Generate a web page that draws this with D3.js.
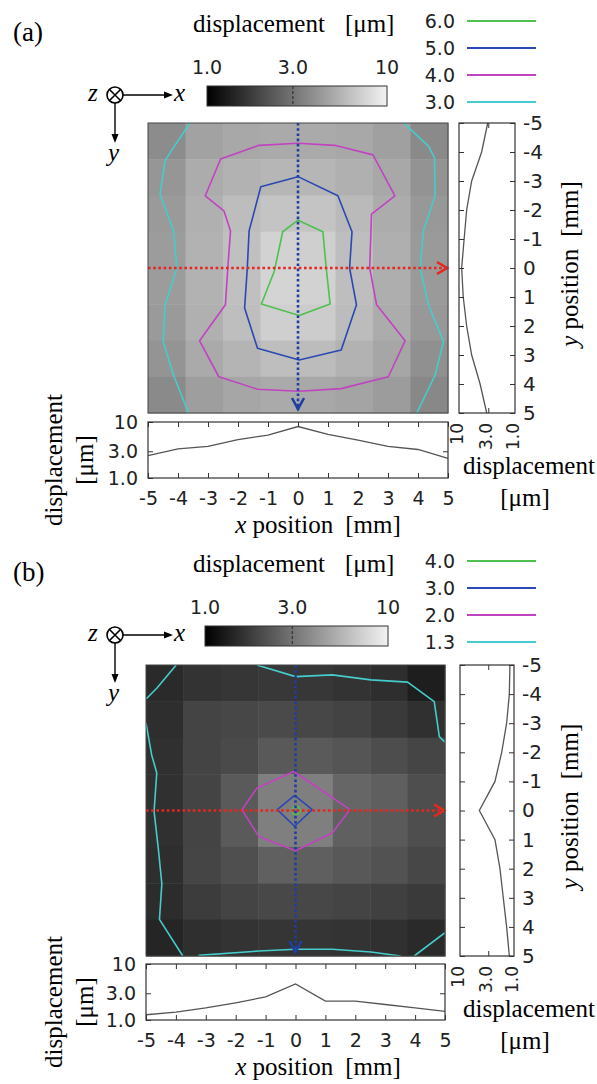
<!DOCTYPE html>
<html>
<head>
<meta charset="utf-8">
<script src="https://cdnjs.cloudflare.com/ajax/libs/d3/7.8.5/d3.min.js"></script>
<style>
body { margin: 0; background: #fff; }
svg { display: block; }
</style>
</head>
<body>
<script>
"use strict";

// positions along the two cut lines [mm]
const positions = [-5, -4, -3, -2, -1, 0, 1, 2, 3, 4, 5];
// log ticks of the displacement axes [um]
const scaleTicks = [1, 3, 10];

// (a) 8x8 block map of displacement [um], rows top -> bottom
const mapA = [
	[3.79, 4.67, 4.94, 5.04, 5.04, 4.94, 4.58, 3.72],
	[4.17, 5.14, 5.44, 5.65, 5.65, 5.34, 4.94, 4.05],
	[4.33, 5.34, 6.04, 6.45, 6.45, 5.87, 5.14, 4.25],
	[4.41, 5.44, 6.21, 7.38, 7.17, 6.10, 5.28, 4.33],
	[4.41, 5.44, 6.21, 7.52, 7.38, 6.10, 5.24, 4.33],
	[4.33, 5.34, 6.10, 7.17, 6.97, 5.98, 5.14, 4.25],
	[4.09, 5.04, 5.54, 6.10, 5.98, 5.44, 4.85, 3.94],
	[3.72, 4.50, 4.85, 5.04, 4.94, 4.76, 4.41, 3.65]
];
// (b) 8x8 block map [um]
const mapB = [
	[1.49, 1.62, 1.67, 1.70, 1.69, 1.62, 1.55, 1.33],
	[1.55, 1.91, 1.97, 2.02, 1.97, 1.89, 1.74, 1.58],
	[1.58, 1.91, 2.02, 2.33, 2.35, 2.25, 2.08, 1.93],
	[1.58, 1.91, 2.35, 3.35, 3.35, 2.64, 2.47, 2.10],
	[1.58, 1.91, 2.35, 3.35, 3.35, 2.49, 2.35, 2.10],
	[1.55, 1.93, 2.12, 2.49, 2.47, 2.31, 2.18, 1.97],
	[1.52, 1.77, 1.91, 1.99, 1.97, 1.91, 1.84, 1.74],
	[1.42, 1.56, 1.62, 1.66, 1.66, 1.62, 1.58, 1.49]
];

// profiles along y = 0 (x cut) and x = 0 (y cut) [um]
const profileXA = [2.50, 3.30, 3.66, 4.86, 5.85, 8.30, 6.00, 4.73, 3.66, 3.23, 2.24];
const profileYA = [3.07, 3.94, 5.94, 7.30, 8.10, 8.96, 8.40, 7.30, 5.94, 4.20, 3.20];
const profileXB = [1.24, 1.38, 1.64, 2.03, 2.58, 4.41, 2.17, 2.17, 1.89, 1.64, 1.42];
const profileYB = [1.19, 1.22, 1.37, 1.69, 2.25, 4.38, 2.25, 1.82, 1.58, 1.37, 1.22];

// contour levels [um], legend order
const levelsA = [6.0, 5.0, 4.0, 3.0];
const levelsB = [4.0, 3.0, 2.0, 1.3];

// contour traces [x mm, y mm]
const isoA6 = [[0.0, -1.65], [0.83, -1.25], [0.94, 0.0], [1.07, 1.24], [0.04, 1.64], [-1.22, 1.24], [-0.79, 0.11], [-0.51, -1.25]];
const isoA5 = [[0.0, -3.15], [1.33, -2.49], [1.80, -1.25], [1.72, 0.0], [1.95, 1.27], [1.44, 2.83], [0.04, 3.17],
	[-1.35, 2.77], [-1.78, 1.38], [-1.69, 0.0], [-1.63, -1.28], [-1.24, -2.80]];
const isoA4 = [[-2.58, -3.76], [-1.30, -4.23], [0.0, -4.30], [1.22, -4.23], [2.50, -3.90], [3.23, -2.49], [2.45, -1.86],
	[2.39, 0.0], [2.62, 1.27], [3.57, 2.51], [3.01, 3.75], [1.44, 4.16], [0.04, 4.25], [-1.35, 4.18], [-2.64, 3.75],
	[-3.28, 2.51], [-2.42, 1.27], [-2.34, 0.0], [-2.25, -1.28], [-2.47, -1.97], [-3.09, -2.49]];
const isoA3L = [[-3.61, -5.0], [-4.43, -3.71], [-4.60, -2.55], [-4.15, -1.28], [-4.04, 0.0], [-4.43, 1.27],
	[-4.49, 2.54], [-4.15, 3.69], [-3.65, 5.0]];
const isoA3R = [[3.52, -5.0], [4.35, -4.20], [4.55, -3.80], [4.57, -2.49], [4.18, -1.28], [4.07, 0.0], [4.35, 1.27],
	[4.85, 2.54], [4.57, 3.69], [3.96, 5.0]];

const isoB4 = [[0.16, 0.0], [0.11, -0.11], [0.02, -0.15], [-0.08, -0.11], [-0.12, 0.0], [-0.08, 0.11], [0.02, 0.15], [0.11, 0.11]];
const isoB3 = [[-0.03, -0.52], [0.56, -0.03], [-0.03, 0.54], [-0.61, -0.03]];
const isoB2 = [[-0.06, -1.34], [1.17, -0.49], [1.82, -0.03], [1.23, 0.77], [0.0, 1.38], [-1.23, 0.89], [-1.79, -0.03], [-1.29, -0.77]];
const isoB13a = [[-3.99, -5.0], [-4.64, -4.2], [-5.0, -3.83]];
const isoB13b = [[-1.29, -5.0], [0.0, -4.6], [1.23, -4.66], [2.52, -4.49], [3.75, -4.41], [4.64, -3.74], [4.81, -2.54], [5.0, -2.35]];
const isoB13c = [[-5.0, -3.0], [-4.81, -1.91], [-4.64, -1.29], [-4.73, 0.03], [-4.59, 1.29], [-4.47, 2.52], [-4.55, 3.74], [-3.77, 5.0]];
const isoB13d = [[-3.24, 4.98], [-1.23, 4.83], [0.0, 4.77], [1.23, 4.77], [2.52, 4.86], [3.52, 5.0]];
const isoB13e = [[3.97, 5.0], [5.0, 4.2]];

const W = 597, H = 1084;
const serif = "'Liberation Serif','Times New Roman',serif";
const sans = "'DejaVu Sans',sans-serif";
const lineColors = ["#50c050", "#2a48b2", "#c044c0", "#46cccc"];
const gray = d3.scaleLog().domain([1, 10]).range(["#000000", "#f2f2f2"]).clamp(true);
const fmt = v => v >= 10 ? "10" : v.toFixed(1);

const panels = [
	{
		id: "a", label: "(a)", hy: 0, levels: levelsA, cells: mapA, profX: profileXA, profY: profileYA,
		iso: [{ pts: isoA6, lv: 0, closed: true }, { pts: isoA5, lv: 1, closed: true }, { pts: isoA4, lv: 2, closed: true },
			{ pts: isoA3L, lv: 3 }, { pts: isoA3R, lv: 3 }],
		map: { x0: 148, x1: 448, y0: 123, y1: 413 }, side: { x0: 459, x1: 515 }, bottom: { y0: 422, y1: 478 },
		cbar: { x0: 207, x1: 387 }
	},
	{
		id: "b", label: "(b)", hy: 540, levels: levelsB, cells: mapB, profX: profileXB, profY: profileYB,
		iso: [{ pts: isoB2, lv: 2, closed: true }, { pts: isoB3, lv: 1, closed: true }, { pts: isoB4, lv: 0, closed: true },
			{ pts: isoB13a, lv: 3 }, { pts: isoB13b, lv: 3 }, { pts: isoB13c, lv: 3 }, { pts: isoB13d, lv: 3 }, { pts: isoB13e, lv: 3 }],
		map: { x0: 146, x1: 445, y0: 665, y1: 956 }, side: { x0: 460, x1: 514 }, bottom: { y0: 964, y1: 1020 },
		cbar: { x0: 205, x1: 388 }
	}
];

const svg = d3.select("body").append("svg").attr("width", W).attr("height", H);
svg.append("rect").attr("width", W).attr("height", H).attr("fill", "#fff");
const defs = svg.append("defs");

function styleAxis(sel, size)
{
	sel.select(".domain").remove();
	sel.selectAll(".tick line").attr("stroke", "#333").attr("stroke-width", 1);
	sel.selectAll(".tick text").attr("font-family", sans).attr("font-size", size || 19).attr("fill", "#222");
}

function drawHeader(p)
{
	let g = svg.append("g").attr("transform", "translate(0," + p.hy + ")");
	g.append("text").attr("x", 13).attr("y", 41).attr("font-family", serif).attr("font-size", 27).text(p.label);

	let title = g.append("text").attr("x", 193).attr("y", 32).attr("font-family", serif).attr("font-size", 25)
		.text("displacement");
	title.append("tspan").attr("dx", 20).text("[μm]");

	//colorbar
	let cb = d3.scaleLog().domain([1, 10]).range([p.cbar.x0, p.cbar.x1]);
	let grad = defs.append("linearGradient").attr("id", "cbar" + p.id);
	d3.range(0, 11).forEach(function(i) {
		grad.append("stop").attr("offset", (i * 10) + "%").attr("stop-color", gray(Math.pow(10, i / 10)));
	});
	g.append("rect").attr("x", cb(1)).attr("y", 86).attr("width", cb(10) - cb(1)).attr("height", 20)
		.attr("fill", "url(#cbar" + p.id + ")").attr("stroke", "#333").attr("stroke-width", 1);
	g.append("line").attr("x1", cb(3)).attr("x2", cb(3)).attr("y1", 86).attr("y2", 106)
		.attr("stroke", "#333").attr("stroke-width", 1.2).attr("stroke-dasharray", "3,2");
	g.selectAll("text.cbt").data(scaleTicks).join("text").attr("class", "cbt")
		.attr("x", d => cb(d)).attr("y", 74).attr("text-anchor", "middle")
		.attr("font-family", sans).attr("font-size", 19).attr("fill", "#222").text(fmt);

	//legend
	let leg = g.selectAll("g.leg").data(p.levels).join("g").attr("class", "leg")
		.attr("transform", (d, i) => "translate(0," + (21 + i * 27) + ")");
	leg.append("text").attr("x", 455).attr("y", 7).attr("text-anchor", "end")
		.attr("font-family", sans).attr("font-size", 19).attr("fill", "#222").text(d => d.toFixed(1));
	leg.append("line").attr("x1", 467).attr("x2", 536).attr("stroke-width", 2.2)
		.attr("stroke", (d, i) => lineColors[i]);

	//z (into page), x and y directions
	let ax = g.append("g").attr("transform", "translate(115,95)").attr("stroke", "#000").attr("fill", "none");
	ax.append("circle").attr("r", 8).attr("stroke-width", 1.6);
	ax.append("path").attr("d", "M-5.5,-5.5L5.5,5.5M5.5,-5.5L-5.5,5.5").attr("stroke-width", 1.6);
	ax.append("line").attr("x1", 8).attr("x2", 52).attr("stroke-width", 1.4);
	ax.append("path").attr("d", "M58,0L49,-3.5L49,3.5Z").attr("fill", "#000").attr("stroke", "none");
	ax.append("line").attr("y1", 8).attr("y2", 42).attr("stroke-width", 1.4);
	ax.append("path").attr("d", "M0,48L-3.5,39L3.5,39Z").attr("fill", "#000").attr("stroke", "none");
	g.append("text").attr("x", 88).attr("y", 101).attr("font-family", serif).attr("font-style", "italic")
		.attr("font-size", 25).text("z");
	g.append("text").attr("x", 174).attr("y", 101).attr("font-family", serif).attr("font-style", "italic")
		.attr("font-size", 25).text("x");
	g.append("text").attr("x", 108).attr("y", 161).attr("font-family", serif).attr("font-style", "italic")
		.attr("font-size", 25).text("y");
}

function drawMap(p)
{
	let m = p.map;
	let xs = d3.scaleLinear().domain([-5, 5]).range([m.x0, m.x1]);
	let ys = d3.scaleLinear().domain([-5, 5]).range([m.y0, m.y1]);
	let g = svg.append("g");

	let n = p.cells.length, step = 10 / n;
	let cellData = p.cells.flatMap((row, r) => row.map((v, c) => ({ r: r, c: c, v: v })));
	g.selectAll("rect.cell").data(cellData).join("rect").attr("class", "cell")
		.attr("x", d => xs(-5 + d.c * step)).attr("y", d => ys(-5 + d.r * step))
		.attr("width", d => xs(-5 + (d.c + 1) * step) - xs(-5 + d.c * step) + 0.5)
		.attr("height", d => ys(-5 + (d.r + 1) * step) - ys(-5 + d.r * step) + 0.5)
		.attr("fill", d => gray(d.v));

	defs.append("clipPath").attr("id", "clip" + p.id).append("rect")
		.attr("x", m.x0).attr("y", m.y0).attr("width", m.x1 - m.x0).attr("height", m.y1 - m.y0);

	let line = d3.line().x(d => xs(d[0])).y(d => ys(d[1]));
	let closedLine = d3.line().x(d => xs(d[0])).y(d => ys(d[1])).curve(d3.curveLinearClosed);
	g.append("g").attr("clip-path", "url(#clip" + p.id + ")")
		.selectAll("path").data(p.iso).join("path")
		.attr("d", d => d.closed ? closedLine(d.pts) : line(d.pts))
		.attr("fill", "none").attr("stroke", d => lineColors[d.lv]).attr("stroke-width", 1.6)
		.attr("stroke-linejoin", "round");

	//cut lines
	let y0 = ys(0), x0 = xs(0);
	g.append("line").attr("x1", xs(-5)).attr("x2", xs(5) - 2).attr("y1", y0).attr("y2", y0)
		.attr("stroke", "#e8261f").attr("stroke-width", 2.6).attr("stroke-dasharray", "2.6,2.6");
	g.append("path").attr("d", "M" + (xs(5) - 11) + "," + (y0 - 6) + "L" + (xs(5) - 1) + "," + y0 + "L" + (xs(5) - 11) + "," + (y0 + 6))
		.attr("fill", "none").attr("stroke", "#e8261f").attr("stroke-width", 2.6);
	g.append("line").attr("x1", x0).attr("x2", x0).attr("y1", ys(-5)).attr("y2", ys(5) - 3)
		.attr("stroke", "#1f3fa0").attr("stroke-width", 2.6).attr("stroke-dasharray", "2.6,2.6");
	g.append("path").attr("d", "M" + (x0 - 6) + "," + (ys(5) - 15) + "L" + x0 + "," + (ys(5) - 4) + "L" + (x0 + 6) + "," + (ys(5) - 15))
		.attr("fill", "none").attr("stroke", "#1f3fa0").attr("stroke-width", 2.6);

	g.append("rect").attr("x", m.x0).attr("y", m.y0).attr("width", m.x1 - m.x0).attr("height", m.y1 - m.y0)
		.attr("fill", "none").attr("stroke", "#444").attr("stroke-width", 1);

	//profile along x = 0 (right side)
	let s = p.side;
	let sx = d3.scaleLog().domain([10, 1]).range([s.x0, s.x1]);
	let sg = svg.append("g");
	sg.append("path").datum(p.profY)
		.attr("d", d3.line().x(d => sx(d)).y((d, i) => ys(positions[i])))
		.attr("fill", "none").attr("stroke", "#555").attr("stroke-width", 1.3);
	sg.append("g").attr("transform", "translate(" + s.x1 + ",0)")
		.call(d3.axisRight(ys).tickValues(positions).tickSize(-5).tickPadding(8).tickFormat(d => String(d)))
		.call(styleAxis, 20);
	sg.append("g").attr("transform", "translate(" + s.x0 + ",0)")
		.call(d3.axisLeft(ys).tickValues(positions).tickSize(-5).tickFormat("")).call(styleAxis);
	sg.append("g").attr("transform", "translate(0," + m.y0 + ")")
		.call(d3.axisTop(sx).tickValues([3]).tickSize(-5).tickFormat("")).call(styleAxis);
	sg.append("g").attr("transform", "translate(0," + m.y1 + ")")
		.call(d3.axisBottom(sx).tickValues([3]).tickSize(-5).tickFormat("")).call(styleAxis);
	sg.append("rect").attr("x", s.x0).attr("y", m.y0).attr("width", s.x1 - s.x0).attr("height", m.y1 - m.y0)
		.attr("fill", "none").attr("stroke", "#333").attr("stroke-width", 1.2);
	sg.selectAll("text.rl").data(scaleTicks).join("text").attr("class", "rl")
		.attr("transform", d => "translate(" + (sx(d) + 4) + "," + (m.y1 + 10) + ") rotate(-90)")
		.attr("text-anchor", "end").attr("font-family", sans).attr("font-size", 17).attr("fill", "#222").text(fmt);
	sg.append("text").attr("x", 463).attr("y", m.y1 + 61).attr("font-family", serif).attr("font-size", 25)
		.text("displacement");
	sg.append("text").attr("x", 525).attr("y", m.y1 + 93).attr("text-anchor", "middle")
		.attr("font-family", serif).attr("font-size", 25).text("[μm]");
	let yl = sg.append("text").attr("transform", "translate(578," + ((m.y0 + m.y1) / 2 - 4) + ") rotate(-90)")
		.attr("text-anchor", "middle").attr("font-family", serif).attr("font-size", 25);
	yl.append("tspan").attr("font-style", "italic").text("y");
	yl.append("tspan").text(" position");
	yl.append("tspan").attr("dx", 12).text("[mm]");

	//profile along y = 0 (below)
	let b = p.bottom;
	let by = d3.scaleLog().domain([1, 10]).range([b.y1, b.y0]);
	let bg = svg.append("g");
	bg.append("path").datum(p.profX)
		.attr("d", d3.line().x((d, i) => xs(positions[i])).y(d => by(d)))
		.attr("fill", "none").attr("stroke", "#555").attr("stroke-width", 1.3);
	bg.append("g").attr("transform", "translate(0," + b.y1 + ")")
		.call(d3.axisBottom(xs).tickValues(positions).tickSize(-5).tickPadding(14).tickFormat(d => String(d)))
		.call(styleAxis);
	bg.append("g").attr("transform", "translate(0," + b.y0 + ")")
		.call(d3.axisTop(xs).tickValues(positions).tickSize(-5).tickFormat("")).call(styleAxis);
	bg.append("g").attr("transform", "translate(" + m.x0 + ",0)")
		.call(d3.axisLeft(by).tickValues(scaleTicks).tickSize(-5).tickPadding(10).tickFormat(fmt))
		.call(styleAxis);
	bg.append("g").attr("transform", "translate(" + m.x1 + ",0)")
		.call(d3.axisRight(by).tickValues([3]).tickSize(-5).tickFormat("")).call(styleAxis);
	bg.append("rect").attr("x", m.x0).attr("y", b.y0).attr("width", m.x1 - m.x0).attr("height", b.y1 - b.y0)
		.attr("fill", "none").attr("stroke", "#333").attr("stroke-width", 1.2);
	let xl = bg.append("text").attr("x", 318).attr("y", b.y1 + 55).attr("text-anchor", "middle")
		.attr("font-family", serif).attr("font-size", 25);
	xl.append("tspan").attr("font-style", "italic").text("x");
	xl.append("tspan").text(" position");
	xl.append("tspan").attr("dx", 12).text("[mm]");
	let cy = (b.y0 + b.y1) / 2 + 10;
	bg.append("text").attr("transform", "translate(62," + cy + ") rotate(-90)").attr("text-anchor", "middle")
		.attr("font-family", serif).attr("font-size", 25).text("displacement");
	bg.append("text").attr("transform", "translate(93," + cy + ") rotate(-90)").attr("text-anchor", "middle")
		.attr("font-family", serif).attr("font-size", 25).text("[μm]");
}

panels.forEach(function(p) {
	drawHeader(p);
	drawMap(p);
});
</script>
</body>
</html>
